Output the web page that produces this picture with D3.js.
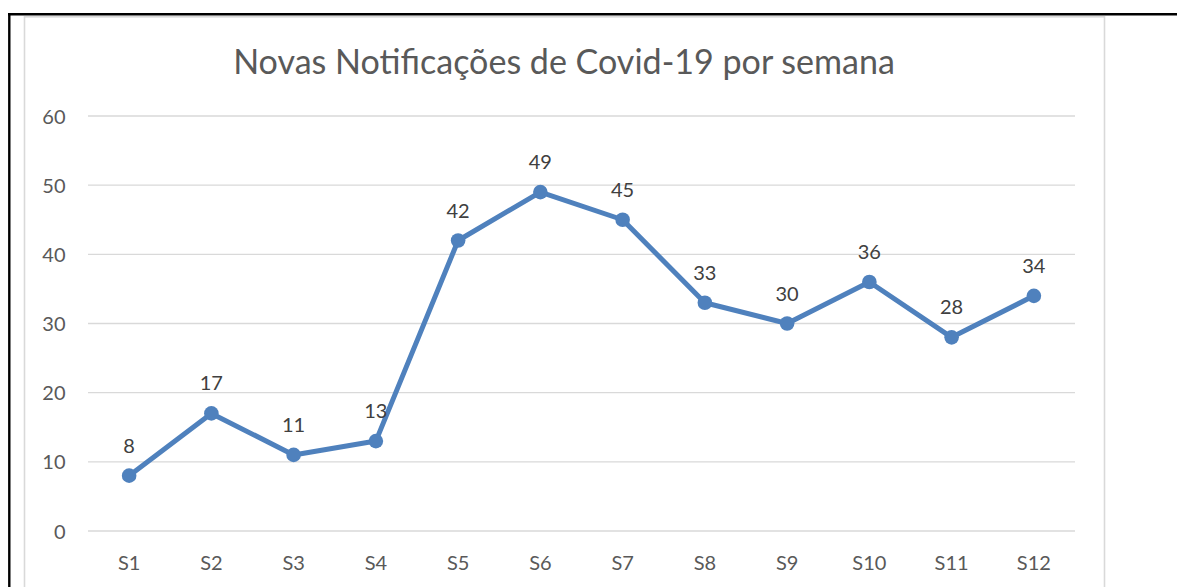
<!DOCTYPE html>
<html><head><meta charset="utf-8">
<script src="https://cdn.jsdelivr.net/npm/d3@7"></script>
<style>body{margin:0;background:#fff}svg{display:block}</style>
</head><body>
<svg id="c" width="1177" height="587"></svg>
<script>
const categories = ["S1","S2","S3","S4","S5","S6","S7","S8","S9","S10","S11","S12"];
const values = [8,17,11,13,42,49,45,33,30,36,28,34];
const yTicks = [0,10,20,30,40,50,60];
const title = "Novas Notificações de Covid-19 por semana";

const svg = d3.select("#c");
const font = "Lato, 'Open Sans', sans-serif";

// outer black frame lines
svg.append("line").attr("x1",8).attr("x2",1177).attr("y1",14.2).attr("y2",14.2).attr("stroke","#000").attr("stroke-width",2.4);
svg.append("line").attr("x1",9.3).attr("x2",9.3).attr("y1",13).attr("y2",587).attr("stroke","#000").attr("stroke-width",2.4);
// chart area border
svg.append("rect").attr("x",24.5).attr("y",16.8).attr("width",1080).attr("height",600)
  .attr("fill","none").attr("stroke","#d9d9d9").attr("stroke-width",1.6);

const x = d3.scaleBand().domain(categories).range([88,1075]);
const y = d3.scaleLinear().domain([0,60]).range([531,116]);

// gridlines
svg.append("g").selectAll("line").data(yTicks).join("line")
  .attr("x1",88).attr("x2",1075).attr("y1",d=>y(d)).attr("y2",d=>y(d))
  .attr("stroke","#d9d9d9").attr("stroke-width",1.4);

// y axis labels
const yAxis = d3.axisLeft(y).tickValues(yTicks).tickSize(0).tickPadding(0);
const gy = svg.append("g").attr("transform","translate(65.5,0)").call(yAxis);
gy.select(".domain").remove();
gy.selectAll("text").attr("font-family",font).attr("font-size",20).attr("fill","#595959").attr("dy","0.35em");

// x axis labels
const xAxis = d3.axisBottom(x).tickSize(0).tickPadding(0);
const gx = svg.append("g").attr("transform","translate(0,563)").call(xAxis);
gx.select(".domain").remove();
gx.selectAll("text").attr("font-family",font).attr("font-size",20).attr("fill","#595959").attr("dy","0.35em");

const cx = d => x(d) + x.bandwidth()/2;
const pts = categories.map((c,i)=>({c, v: values[i]}));

svg.append("path").datum(pts)
  .attr("d", d3.line().x(d=>cx(d.c)).y(d=>y(d.v)))
  .attr("fill","none").attr("stroke","#4f81bd").attr("stroke-width",5).attr("stroke-linejoin","round");

svg.append("g").selectAll("circle").data(pts).join("circle")
  .attr("cx",d=>cx(d.c)).attr("cy",d=>y(d.v)).attr("r",7.3).attr("fill","#4f81bd");

svg.append("g").selectAll("text").data(pts).join("text")
  .attr("x",d=>cx(d.c)).attr("y",d=>y(d.v)-23)
  .attr("text-anchor","middle").attr("font-family",font).attr("font-size",20).attr("fill","#404040")
  .text(d=>d.v);

const t = svg.append("text").attr("x",564).attr("y",74).attr("text-anchor","middle")
  .attr("font-family",font).attr("font-size",32).attr("fill","#595959").text(title);
const len = t.node().getComputedTextLength();
t.attr("font-size", 32*662/len);
</script>
</body></html>
